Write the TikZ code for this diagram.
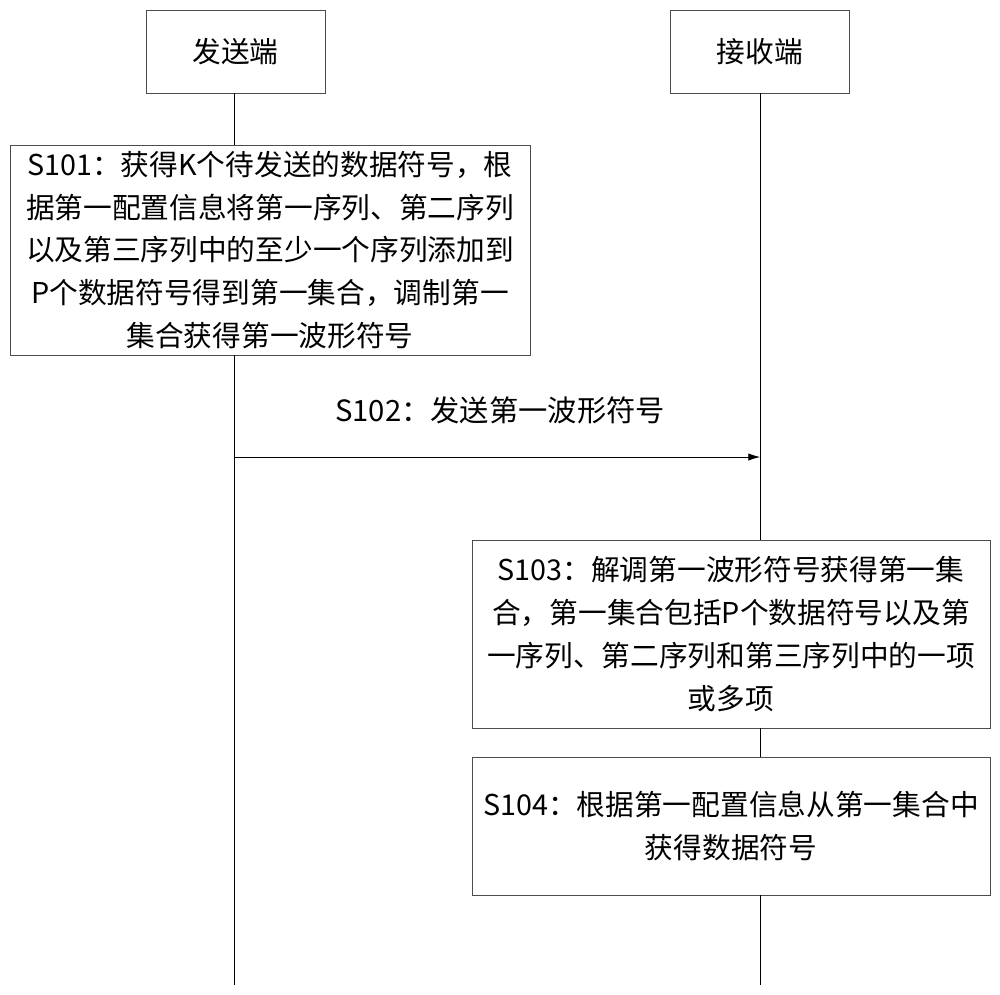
\documentclass[tikz,border=0pt]{standalone}
\usepackage{fontspec}
\setmainfont{Noto Sans CJK SC}
\usetikzlibrary{arrows.meta,positioning}
\tikzset{
  party/.style={draw=black!70, line width=0.6pt, minimum width=5.37cm, minimum height=2.49cm, font=\fontsize{24.5}{28}\selectfont},
  stepbox/.style={draw=black!70, line width=0.6pt, align=center, font=\fontsize{24.5}{36.6}\selectfont},
  life/.style={line width=0.6pt},
  msg/.style={-{Latex[length=3.5mm,width=2.2mm]}, line width=0.6pt},
}
\begin{document}
\begin{tikzpicture}[x=0.03cm,y=-0.03cm]
      \useasboundingbox (0,0) rectangle (1000,994);
      % parties
      \node[party] (tx) at (235.5,51.5) {发送端};
      \node[party] (rx) at (760,51.5) {接收端};

      % sender step
      \node[stepbox, minimum width=15.6cm, minimum height=6.3cm] (s101) at (270,250)
        {S101：获得K个待发送的数据符号，根\\据第一配置信息将第一序列、第二序列\\以及第三序列中的至少一个序列添加到\\P个数据符号得到第一集合，调制第一\\集合获得第一波形符号};

      % receiver steps
      \node[stepbox, minimum width=15.54cm, minimum height=5.64cm] (s103) at (731,634)
        {S103：解调第一波形符号获得第一集\\合，第一集合包括P个数据符号以及第\\一序列、第二序列和第三序列中的一项\\或多项};
      \node[stepbox, minimum width=15.54cm, minimum height=4.14cm] (s104) at (731,826)
        {S104：根据第一配置信息从第一集合中\\获得数据符号};

      % lifelines
      \coordinate (txend) at (234,985);
      \coordinate (rxend) at (760,985);
      \draw[life] (234,93) -- (234,145);
      \draw[life] (234,355) -- (txend);
      \draw[life] (760,93) -- (760,540);
      \draw[life] (760,728) -- (760,757);
      \draw[life] (760,895) -- (rxend);

      % message
      \coordinate (m1) at (234,457);
      \coordinate (m2) at (760,457);
      \draw[msg] (m1) -- (m2);
      \node[font=\fontsize{25}{28}\selectfont] (s102) at (500,410) {S102：发送第一波形符号};
\end{tikzpicture}
\end{document}
